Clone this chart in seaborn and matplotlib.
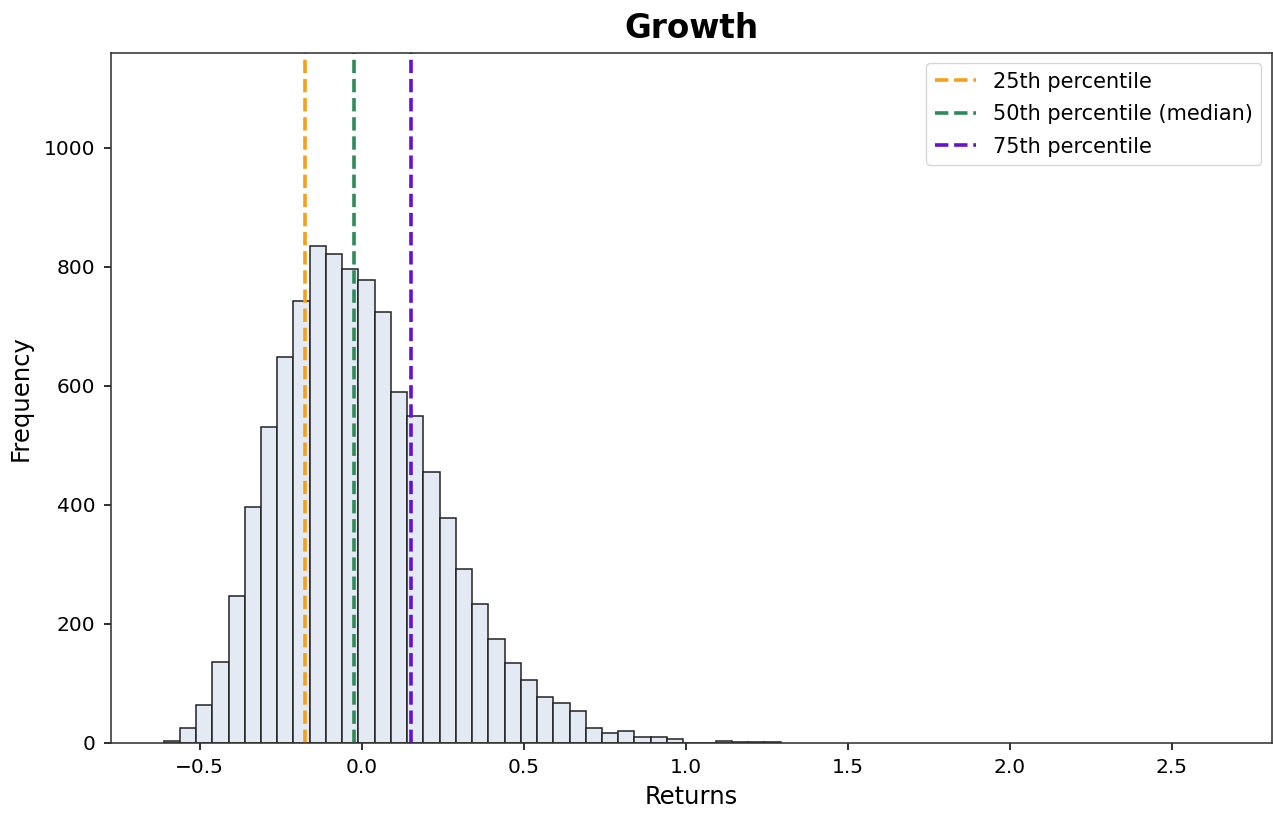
import numpy as np
import pandas as pd
import matplotlib
matplotlib.use("Agg")
import matplotlib.pyplot as plt
import seaborn as sns

# Histogram data (bin edges, counts)
bin_start = -0.611
bin_width = 0.0501
counts = [3, 25, 64, 136, 247, 396, 531, 649, 743, 836,
          822, 796, 778, 724, 590, 550, 456, 378, 292, 234,
          175, 134, 106, 77, 66, 53, 25, 17, 19, 10,
          10, 6, 0, 0, 3, 1, 1, 1]

percentile_labels = ["25th percentile", "50th percentile (median)", "75th percentile"]
percentile_values = [-0.175, -0.022, 0.153]
percentile_colors = ["#F5A01A", "#2E8B57", "#6610D0"]

edges = bin_start + bin_width * np.arange(len(counts) + 1)
centers = (edges[:-1] + edges[1:]) / 2
df = pd.DataFrame({"Returns": centers, "count": counts})

fig = plt.figure(figsize=(12.73, 8.13), dpi=100)
ax = fig.add_axes([0.087, 0.0865, 0.912, 0.8485])

sns.histplot(data=df, x="Returns", weights="count", bins=list(edges), ax=ax,
             color="#E3EAF4", edgecolor="#222222", linewidth=1.1, alpha=1.0)

for lab, val, col in zip(percentile_labels, percentile_values, percentile_colors):
    ax.axvline(val, color=col, linestyle="--", linewidth=2.6, label=lab)

ax.set_xlim(-0.774, 2.808)
ax.set_ylim(0, 1160)
ax.set_title("Growth", fontsize=23.5, fontweight="bold", pad=11)
ax.set_xlabel("Returns", fontsize=17.5, labelpad=6)
ax.set_ylabel("Frequency", fontsize=17.5, labelpad=8)
ax.tick_params(labelsize=14.5, length=5, width=1.15, pad=6)
for s in ax.spines.values():
    s.set_linewidth(1.15)
    s.set_color("#333333")
ax.legend(loc="upper right", fontsize=15, labelspacing=0.6)

fig.savefig("out.png", dpi=100)
